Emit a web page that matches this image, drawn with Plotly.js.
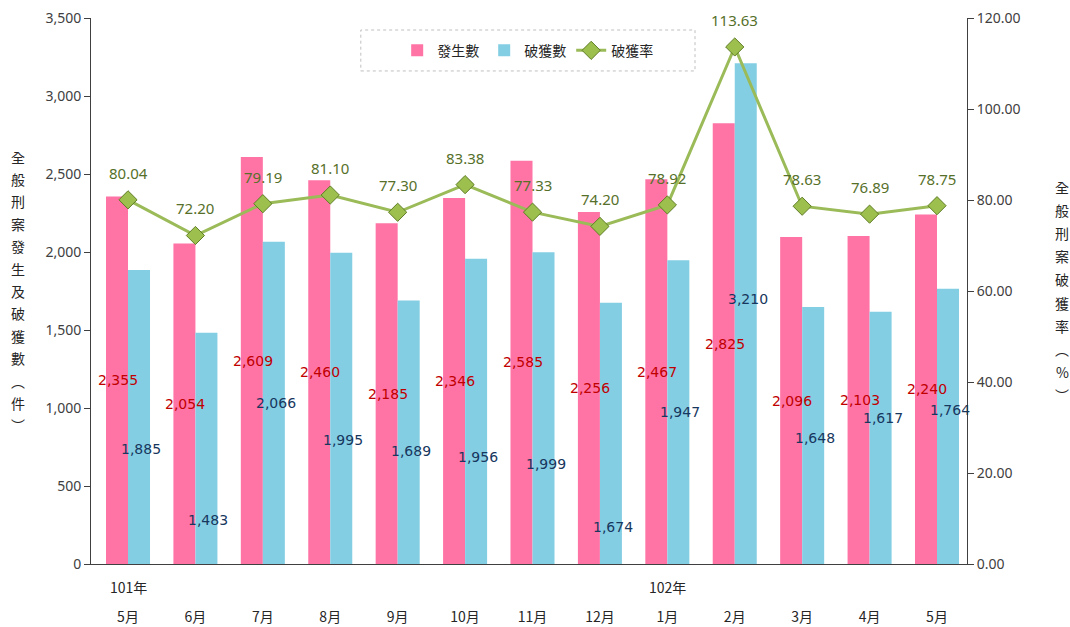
<!DOCTYPE html>
<html>
<head>
<meta charset="utf-8">
<script src="https://cdn.plot.ly/plotly-3.0.1.min.js"></script>
<style>html,body{margin:0;padding:0;background:#fff;}#chart{width:1070px;height:627px;}</style>
</head>
<body>
<div id="chart"></div>
<script>
// ---- data ----
const months = ['5月','6月','7月','8月','9月','10月','11月','12月','1月','2月','3月','4月','5月'];
const yearLabels = ['101年','','','','','','','','102年','','','',''];
const occurred = [2355,2054,2609,2460,2185,2346,2585,2256,2467,2825,2096,2103,2240];
const solved   = [1885,1483,2066,1995,1689,1956,1999,1674,1947,3210,1648,1617,1764];
const rate     = [80.04,72.20,79.19,81.10,77.30,83.38,77.33,74.20,78.92,113.63,78.63,76.89,78.75];
// label heights for the 破獲數 numbers, as share of bar height (as placed in the original)
const solvedLabelShare = [0.39,0.19,0.50,0.40,0.43,0.35,0.32,0.14,0.50,0.53,0.49,0.58,0.56];

const seriesNames = ['發生數','破獲數','破獲率'];
const leftTitle = '全般刑案發生及破獲數︵件︶';
const rightTitle = '全般刑案破獲率︵%︶';

const idx = months.map((_, i) => i);
const fmt = v => v.toLocaleString('en-US');
const numFont = 'DejaVu Sans, sans-serif';
const cjk = '"Noto Sans CJK TC", "Noto Sans", sans-serif';

const traces = [
  {type:'bar', name:seriesNames[0], x:idx, y:occurred, marker:{color:'#FF73A5'}, hoverinfo:'y'},
  {type:'bar', name:seriesNames[1], x:idx, y:solved, marker:{color:'#84CEE4'}, hoverinfo:'y'},
  {type:'scatter', mode:'lines+markers', name:seriesNames[2], x:idx, y:rate, yaxis:'y2',
   line:{color:'#9BBB59', width:3},
   marker:{symbol:'diamond', size:14, color:'#9DBF4E', line:{color:'#5F7D25', width:1}}}
];

const ann = [];
idx.forEach(i => {
  ann.push({x:i, y:occurred[i]/2, xref:'x', yref:'y', xshift:-10, text:fmt(occurred[i]), showarrow:false,
            font:{family:numFont, size:14, color:'#C00000'}});
  ann.push({x:i, y:solved[i]*solvedLabelShare[i], xref:'x', yref:'y', xshift:13, text:fmt(solved[i]), showarrow:false,
            font:{family:numFont, size:14, color:'#17375E'}});
  ann.push({x:i, y:rate[i], xref:'x', yref:'y2', yshift:27, text:rate[i].toFixed(2), showarrow:false,
            font:{family:'"Noto Sans", sans-serif', size:15, color:'#56702A'}});
  if (yearLabels[i]) {
    ann.push({x:i, y:0, xref:'x', yref:'paper', yshift:-23, yanchor:'middle', text:yearLabels[i], showarrow:false,
              font:{family:cjk, size:14, color:'#262626'}});
  }
});
// vertical axis titles, one character per line
[...leftTitle].forEach((ch, k, arr) => {
  ann.push({x:0, y:0.5, xref:'paper', yref:'paper', xshift:-82, yshift:((arr.length-1)/2 - k)*22.4,
            text:ch, showarrow:false, font:{family:cjk, size:14, color:'#262626'}});
});
[...rightTitle].forEach((ch, k, arr) => {
  ann.push({x:1, y:0.5, xref:'paper', yref:'paper', xshift:104, yshift:((arr.length-1)/2 - k)*23.1,
            text:ch, showarrow:false, font:{family:cjk, size:14, color:'#262626'}});
});

const layout = {
  width:1070, height:627,
  margin:{l:91, r:103, t:18, b:63},
  paper_bgcolor:'#fff', plot_bgcolor:'#fff',
  barmode:'group', bargap:0.347, bargroupgap:0,
  showlegend:true,
  legend:{orientation:'h', x:0.4985, xanchor:'center', y:0.94, yanchor:'middle',
          font:{family:cjk, size:14, color:'#262626'}, bgcolor:'rgba(0,0,0,0)', itemwidth:30},
  xaxis:{tickmode:'array', tickvals:idx, ticktext:months, range:[-0.549, 12.445],
         showline:true, linecolor:'#404040', linewidth:1, ticks:'', ticklabelstandoff:40,
         showgrid:false, zeroline:false, tickfont:{family:cjk, size:14, color:'#262626'}, fixedrange:true},
  yaxis:{range:[0,3500], dtick:500, tickformat:',d', showline:true, linecolor:'#404040', linewidth:1,
         ticks:'outside', ticklen:6, tickcolor:'#404040', showgrid:false, zeroline:false,
         tickfont:{family:'"Noto Sans", sans-serif', size:14, color:'#404040'}},
  yaxis2:{range:[0,120], dtick:20, tickformat:'.2f', overlaying:'y', side:'right', showline:true,
          linecolor:'#404040', linewidth:1, ticks:'outside', ticklen:6, tickcolor:'#404040',
          showgrid:false, zeroline:false, tickfont:{family:'"Noto Sans", sans-serif', size:14, color:'#404040'}},
  shapes:[{type:'rect', xref:'paper', yref:'paper', x0:0.308, x1:0.6895, y0:0.903, y1:0.978,
           line:{color:'#BFBFBF', width:1, dash:'dot'}, fillcolor:'rgba(0,0,0,0)', layer:'below'}],
  annotations:ann
};

Plotly.newPlot('chart', traces, layout, {displayModeBar:false, staticPlot:true});
</script>
</body>
</html>
